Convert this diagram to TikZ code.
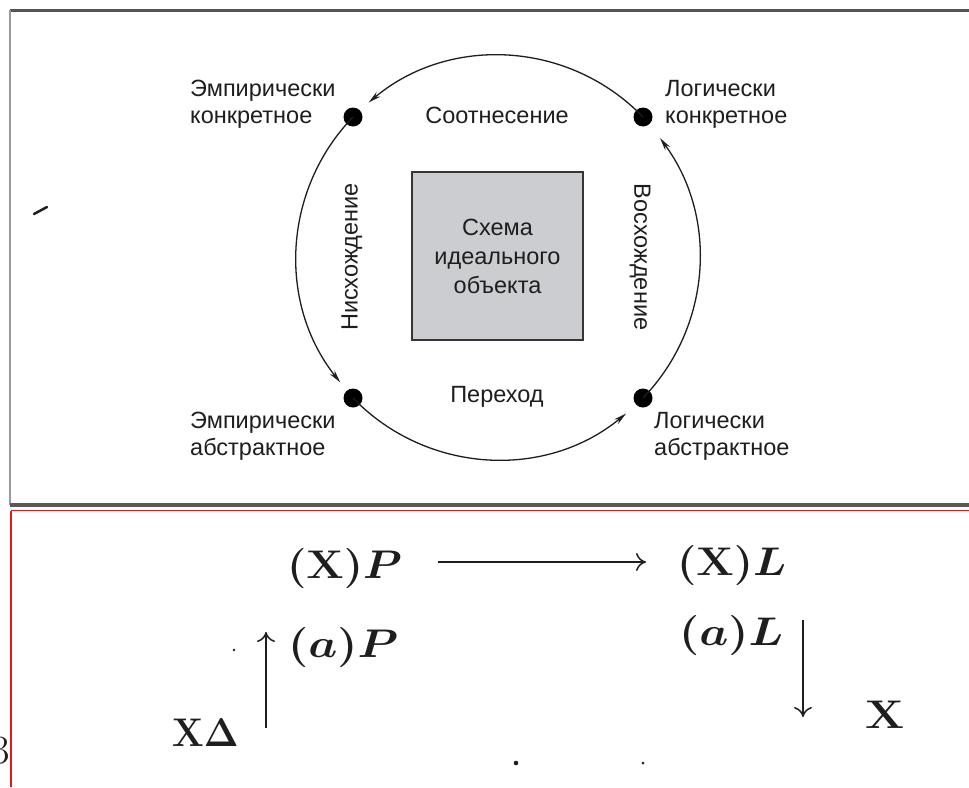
\RequirePackage{fix-cm}
\documentclass[tikz,border=0pt]{standalone}
\usepackage[no-math]{fontspec}
\newfontfamily\lab{Liberation Sans}
\usetikzlibrary{arrows.meta}
\definecolor{ink}{RGB}{30,30,30}
\definecolor{boxfill}{RGB}{204,205,208}
\definecolor{frameline}{RGB}{85,85,85}
\definecolor{redline}{RGB}{235,20,20}
\begin{document}
\begin{tikzpicture}[x=1pt,y=-1pt,
  lbl/.style={font=\lab\fontsize{23.5}{28}\selectfont, text=ink, inner sep=0pt},
  dotnode/.style={circle, fill=black, minimum size=19pt, inner sep=0pt},
  cyc/.style={draw=ink, line width=1.3pt, -{Stealth[length=13pt,width=6pt]}},
  mth/.style={font=\fontsize{40}{44}\selectfont\boldmath, text=ink, inner sep=0pt},
  marr/.style={draw=ink, line width=1.5pt, -{Computer Modern Rightarrow[length=10pt,width=18pt]}},
  idealbox/.style={draw=ink!90, line width=2pt, fill=boxfill, minimum width=171pt, minimum height=168pt, inner sep=0pt, align=center, font=\lab\fontsize{23.5}{29}\selectfont, text=ink}
]
\useasboundingbox (0,0) rectangle (969,787);
\fill[white] (0,0) rectangle (969,787);

% frames
\draw[frameline, line width=3pt] (10,10) -- (969,10);
\draw[gray!80, line width=2pt] (10,10) -- (10,505);
\draw[black!65, line width=4pt] (10,505) -- (969,505);

% stray mark
\draw[ink, line width=2.5pt, line cap=round] (34,214) -- (47,207);

% ideal object box
\node[idealbox] (box) at (497.5,256) {Схема\\идеального\\объекта};

% dots
\node[dotnode] (ul) at (353,117) {};
\node[dotnode] (ur) at (643,117) {};
\node[dotnode] (ll) at (353,398) {};
\node[dotnode] (lr) at (643,398) {};

% cycle arcs
\draw[cyc] (ur.center) arc[start angle=-44, end angle=-130, radius=201.5];
\draw[cyc] (ul.center) arc[start angle=-136, end angle=-218.5, radius=201.5];
\draw[cyc] (ll.center) arc[start angle=-224, end angle=-309.5, radius=201.5];
\draw[cyc] (lr.center) arc[start angle=-316, end angle=-396.5, radius=201.5];

% corner labels
\node[lbl, anchor=base west] (ul1) at (190,96) {Эмпирически};
\node[lbl, anchor=base west] (ul2) at (190,123) {конкретное};
\node[lbl, anchor=base west] (ur1) at (665,96) {Логически};
\node[lbl, anchor=base west] (ur2) at (665,123) {конкретное};
\node[lbl, anchor=base west] (ll1) at (190,428) {Эмпирически};
\node[lbl, anchor=base west] (ll2) at (190,455) {абстрактное};
\node[lbl, anchor=base west] (lr1) at (654,428) {Логически};
\node[lbl, anchor=base west] (lr2) at (654,455) {абстрактное};

% side labels
\node[lbl, anchor=base] (top) at (497,123) {Соотнесение};
\node[lbl, anchor=base] (bot) at (497,402) {Переход};
\node[lbl, rotate=90] (lft) at (352,257) {Нисхождение};
\node[lbl, rotate=-90] (rgt) at (640,257) {Восхождение};

% lower panel frame
\draw[redline, line width=1.5pt] (11,510.5) -- (969,510.5);
\node[font=\fontsize{40}{44}\selectfont, text=ink, inner sep=0pt, anchor=base] (three) at (1,763) {3};
\draw[redline, line width=1.5pt] (11,510.5) -- (11,787);

% formulas
\node[mth, anchor=base west] (xp) at (287,578) {\scalebox{1.1}[1]{$(\mathbf{X})P$}};
\node[mth, anchor=base west] (xl) at (677,575) {\scalebox{1.1}[1]{$(\mathbf{X})L$}};
\node[mth, anchor=base west] (ap) at (288,657) {\scalebox{1.15}[1]{$(a)P$}};
\node[mth, anchor=base west] (al) at (679,645) {\scalebox{1.15}[1]{$(a)L$}};
\node[mth, anchor=base west] (xd) at (172,746) {\scalebox{0.93}[1]{$\mathbf{X}\Delta$}};
\node[mth, anchor=base west] (xr) at (865,728) {\scalebox{1.15}[1]{$\mathbf{X}$}};

\coordinate (h0) at (438,562);
\coordinate (h1) at (646,562);
\coordinate (u0) at (266,728);
\coordinate (u1) at (266,632);
\coordinate (d0) at (803,620);
\coordinate (d1) at (803,717);
\draw[marr] (h0) -- (h1);
\draw[marr] (u0) -- (u1);
\draw[marr] (d0) -- (d1);

% specks
\fill[ink] (234,650) circle (1.3pt);
\fill[ink] (516,763) circle (2.3pt);
\fill[ink] (643,763) circle (1.5pt);
\end{tikzpicture}
\end{document}
